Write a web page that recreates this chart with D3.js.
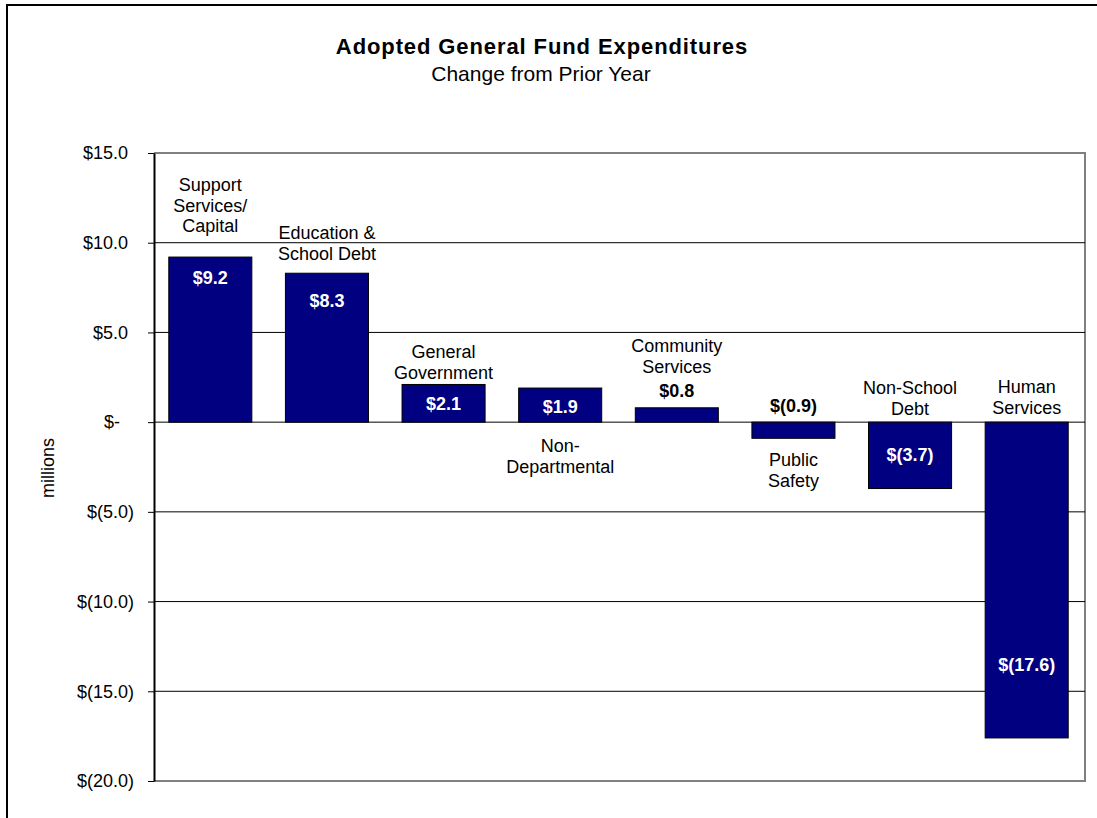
<!DOCTYPE html>
<meta charset="utf-8">
<style>
    body { margin: 0; background: #fff; }
    text { font-family: "Liberation Sans", Arial, sans-serif; }
    .bar { fill: #000080; stroke: #000; stroke-width: 1; }
    .grid line { stroke: #000; stroke-width: 1; }
    .axis--y path { stroke: #000; stroke-width: 2; }
    .axis--y line { stroke: #000; }
    .axis--y text { font-size: 18px; fill: #000; }
</style>

<body>
    <svg width="1097" height="818"></svg>
    <script src="https://d3js.org/d3.v7.min.js"></script>
    <script>
        // data
        var categories = ["Support Services/Capital", "Education & School Debt", "General Government",
            "Non-Departmental", "Community Services", "Public Safety", "Non-School Debt", "Human Services"];
        var labelLines = [["Support", "Services/", "Capital"], ["Education &", "School Debt"], ["General", "Government"],
            ["Non-", "Departmental"], ["Community", "Services"], ["Public", "Safety"], ["Non-School", "Debt"], ["Human", "Services"]];
        var changes = [9.2, 8.3, 2.1, 1.9, 0.8, -0.9, -3.7, -17.6];
        var yTicks = [-20, -15, -10, -5, 0, 5, 10, 15];

        // hand placed label offsets (px): cat = first baseline from zero line, val = baseline from bar end
        var labelLayout = [
            { cat: -231, val: 27, inside: true },
            { cat: -183, val: 34, inside: true },
            { cat: -64, val: 26, inside: true },
            { cat: 30, val: 25, inside: true },
            { cat: -70, val: -11, inside: false },
            { cat: 44, val: -26, inside: false },
            { cat: -28, val: -28, inside: true },
            { cat: -29, val: -67, inside: true }
        ];

        var svg = d3.select("svg");

        var x = d3.scaleBand().domain(categories).range([152, 1085]).paddingInner(0.288).paddingOuter(0.144);
        var y = d3.scaleLinear().domain([-20, 15]).range([781, 153]);

        function money(v) {
            if (v === 0) return "$-";
            return v > 0 ? "$" + v.toFixed(1) : "$(" + Math.abs(v).toFixed(1) + ")";
        }

        // outer chart border
        svg.append("rect")
            .attr("x", 7).attr("y", 5)
            .attr("width", 1110).attr("height", 830)
            .attr("fill", "none").attr("stroke", "#000").attr("stroke-width", 2);

        // titles
        svg.append("text")
            .attr("x", 542).attr("y", 54)
            .attr("text-anchor", "middle")
            .style("font-size", "22px").style("font-weight", "bold").style("letter-spacing", "0.9px")
            .text("Adopted General Fund Expenditures");
        svg.append("text")
            .attr("x", 541).attr("y", 81)
            .attr("text-anchor", "middle")
            .style("font-size", "21px")
            .text("Change from Prior Year");

        // plot frame (grey top/right/bottom)
        svg.append("path")
            .attr("d", "M154," + y(15) + "H1085V" + y(-20) + "H154")
            .attr("fill", "none").attr("stroke", "#808080").attr("stroke-width", 2);

        // gridlines
        svg.append("g")
            .attr("class", "grid")
            .selectAll("line")
            .data(yTicks.filter(function (d) { return d > -20 && d < 15; }))
            .enter().append("line")
            .attr("x1", 154).attr("x2", 1085)
            .attr("y1", function (d) { return y(d); })
            .attr("y2", function (d) { return y(d); });

        // bars
        svg.selectAll(".bar")
            .data(changes)
            .enter().append("rect")
            .attr("class", "bar")
            .attr("x", function (d, i) { return x(categories[i]); })
            .attr("y", function (d) { return y(Math.max(0, d)); })
            .attr("width", x.bandwidth())
            .attr("height", function (d) { return Math.abs(y(d) - y(0)); });

        // y axis
        var yAxis = svg.append("g")
            .attr("class", "axis axis--y")
            .attr("transform", "translate(154,0)")
            .call(d3.axisLeft(y).tickValues(yTicks).tickSize(6).tickSizeOuter(0).tickPadding(14).tickFormat(money));
        yAxis.selectAll("text")
            .attr("dx", function (d) { return d > 0 ? -6 : (d === 0 ? -14 : 0); });

        svg.append("text")
            .attr("transform", "translate(54,468) rotate(-90)")
            .attr("text-anchor", "middle")
            .style("font-size", "18px")
            .text("millions");

        // category labels
        var catG = svg.selectAll(".cat")
            .data(labelLines)
            .enter().append("text")
            .attr("class", "cat")
            .attr("text-anchor", "middle")
            .style("font-size", "18px")
            .attr("y", function (d, i) { return y(0) + labelLayout[i].cat; });
        catG.selectAll("tspan")
            .data(function (d, i) { return d.map(function (t) { return { t: t, i: i }; }); })
            .enter().append("tspan")
            .attr("x", function (d) { return x(categories[d.i]) + x.bandwidth() / 2; })
            .attr("dy", function (d, j) { return j === 0 ? 0 : 20.5; })
            .text(function (d) { return d.t; });

        // value labels
        svg.selectAll(".val")
            .data(changes)
            .enter().append("text")
            .attr("class", "val")
            .attr("text-anchor", "middle")
            .style("font-size", "18px").style("font-weight", "bold")
            .attr("fill", function (d, i) { return labelLayout[i].inside ? "#fff" : "#000"; })
            .attr("x", function (d, i) { return x(categories[i]) + x.bandwidth() / 2; })
            .attr("y", function (d, i) { return y(d) + labelLayout[i].val; })
            .text(money);
    </script>
</body>
